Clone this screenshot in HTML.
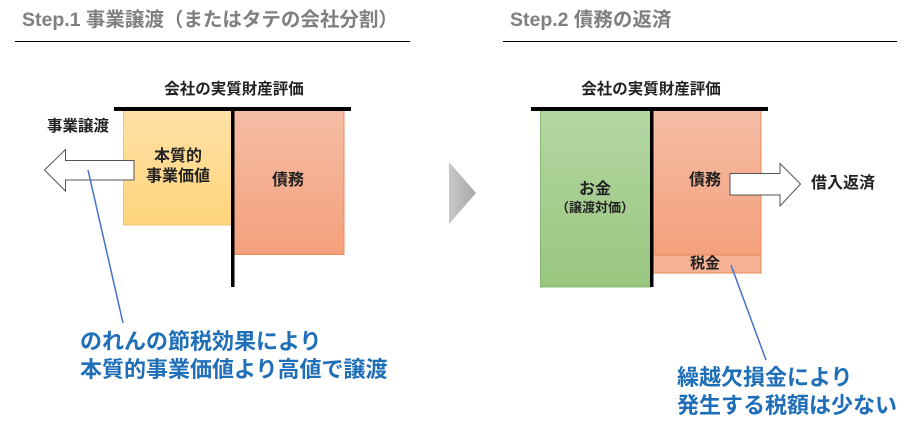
<!DOCTYPE html>
<html><head><meta charset="utf-8"><style>
body{margin:0;width:924px;height:443px;background:#fff;overflow:hidden;position:relative;font-family:"Liberation Sans","Noto Sans CJK JP",sans-serif;}
.t{position:absolute;white-space:nowrap;font-weight:bold;line-height:1;}
.c{transform:translateX(-50%);text-align:center;}
</style></head><body>
<svg width="924" height="443" style="position:absolute;left:0;top:0">
<defs>
<linearGradient id="y" x1="0" y1="0" x2="0" y2="1"><stop offset="0" stop-color="#ffe1a6"/><stop offset="1" stop-color="#ffd47c"/></linearGradient>
<linearGradient id="o" x1="0" y1="0" x2="0" y2="1"><stop offset="0" stop-color="#f5bda6"/><stop offset="1" stop-color="#f4a07c"/></linearGradient>
<linearGradient id="g" x1="0" y1="0" x2="0" y2="1"><stop offset="0" stop-color="#b4d6a4"/><stop offset="1" stop-color="#98c67e"/></linearGradient>
<linearGradient id="gr" x1="0" y1="0" x2="1" y2="0"><stop offset="0" stop-color="#c8c8c8"/><stop offset="1" stop-color="#a8a8a8"/></linearGradient>
</defs>
<line x1="15" y1="41.5" x2="410" y2="41.5" stroke="#000" stroke-width="1"/>
<line x1="503" y1="41.5" x2="897" y2="41.5" stroke="#000" stroke-width="1"/>
<rect x="123.5" y="110" width="108" height="115" fill="url(#y)" stroke="#f2c46c"/>
<rect x="234" y="110" width="110" height="144.5" fill="url(#o)" stroke="#e8895a"/>
<rect x="114" y="107" width="237" height="4" fill="#000"/>
<rect x="231" y="107" width="3.5" height="180" fill="#000"/>
<polygon points="44.5,170 65.5,149.5 65.5,160.5 134,160.5 134,180 65.5,180 65.5,191" fill="#fff" stroke="#555" stroke-width="1"/>
<line x1="88" y1="170" x2="123" y2="323" stroke="#4472c4" stroke-width="1.5"/>
<polygon points="449,162 476,193 449,224" fill="url(#gr)"/>
<rect x="540.5" y="110" width="110" height="177" fill="url(#g)" stroke="#8ab872"/>
<rect x="653" y="110" width="108" height="145" fill="url(#o)" stroke="#e8895a"/>
<rect x="653" y="255" width="108" height="18" fill="#f5b294" stroke="#e8895a"/>
<rect x="531" y="107" width="237" height="4" fill="#000"/>
<rect x="650" y="107" width="3.5" height="180" fill="#000"/>
<polygon points="730,173.5 780,173.5 780,163.5 800.5,184 780,206 780,195 730,195" fill="#fff" stroke="#555" stroke-width="1"/>
<line x1="731" y1="265" x2="766" y2="360" stroke="#4472c4" stroke-width="1.5"/>
</svg>
<div class="t" style="left:22px;top:11px;font-size:19.5px;color:#7f7f7f">Step.1 事業譲渡（またはタテの会社分割）</div>
<div class="t" style="left:510px;top:11px;font-size:19.5px;color:#7f7f7f">Step.2 債務の返済</div>
<div class="t c" style="left:234px;top:82px;font-size:15.5px;color:#222">会社の実質財産評価</div>
<div class="t c" style="left:651px;top:82px;font-size:15.5px;color:#222">会社の実質財産評価</div>
<div class="t" style="left:47px;top:119px;font-size:15.5px;color:#222">事業譲渡</div>
<div class="t c" style="left:178px;top:147px;font-size:16px;color:#222;line-height:20px">本質的<br>事業価値</div>
<div class="t c" style="left:288px;top:173px;font-size:16px;color:#222">債務</div>
<div class="t c" style="left:595px;top:182px;font-size:16px;color:#222">お金</div>
<div class="t c" style="left:595px;top:201px;font-size:13px;color:#222">（譲渡対価）</div>
<div class="t c" style="left:705px;top:173px;font-size:16px;color:#222">債務</div>
<div class="t c" style="left:705px;top:256px;font-size:15px;color:#222">税金</div>
<div class="t" style="left:811px;top:176px;font-size:16px;color:#222">借入返済</div>
<div class="t" style="left:80px;top:328px;font-size:22px;color:#1f6fb8;line-height:28px">のれんの節税効果により<br>本質的事業価値より高値で譲渡</div>
<div class="t" style="left:677px;top:364px;font-size:22px;color:#1f6fb8;line-height:28px">繰越欠損金により<br>発生する税額は少ない</div>
</body></html>
